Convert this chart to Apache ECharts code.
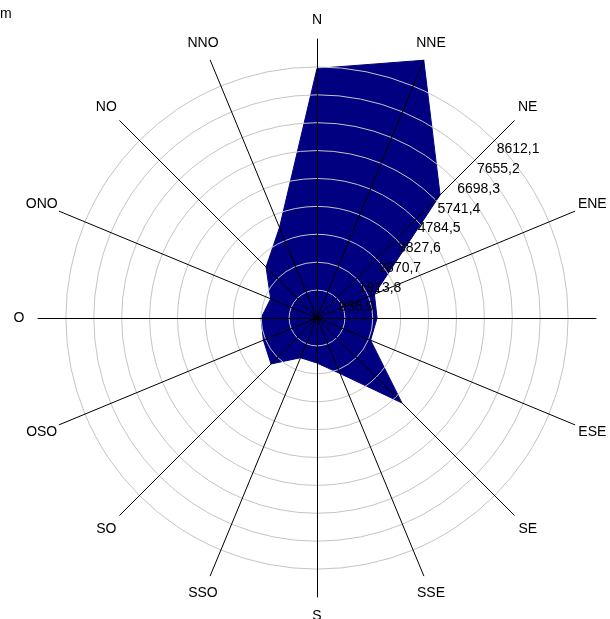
<!DOCTYPE html>
<html>
<head>
<meta charset="utf-8">
<script src="https://cdn.jsdelivr.net/npm/echarts@6/dist/echarts.min.js"></script>
<style>
html,body{margin:0;padding:0;background:#fff;}
#chart{width:610px;height:619px;}
</style>
</head>
<body>
<div id="chart"></div>
<script>
// Compass directions (clockwise from North), Spanish labels
var directions = ['N','NNE','NE','ENE','E','ESE','SE','SSE','S','SSO','SO','OSO','O','ONO','NO','NNO'];
// Values (clockwise from North)
var values = [8560, 9569, 5970, 2130, 2060, 1990, 4120, 2060, 1545, 1475, 2230, 1990, 1920, 1720, 2470, 3360];
// Ring step and axis maximum
var ringStep = 956.9;
var axisMax = 9569;
var labelAxis = 'NE';

// ECharts lays radar indicators counter-clockwise: reorder
var order = [0];
for (var i = directions.length - 1; i >= 1; i--) order.push(i);

var indicator = order.map(function (k) {
  var ind = { name: directions[k], min: 0, max: axisMax };
  if (directions[k] === labelAxis) {
    ind.axisLabel = {
      show: true,
      color: '#000',
      fontSize: 14,
      fontFamily: 'Liberation Sans, Arial, sans-serif',
      align: 'left',
      verticalAlign: 'top',
      margin: -3,
      formatter: function (v, idx) {
        if (v <= 0 || v >= axisMax - 1) return '';
        return v.toFixed(1).replace('.', ',');
      }
    };
  }
  return ind;
});
var seriesData = order.map(function (k) { return values[k]; });

var ringColors = [];
for (var j = 0; j < 10; j++) ringColors.push('#c4c4c4');
ringColors.push('rgba(0,0,0,0)');

var chart = echarts.init(document.getElementById('chart'));
chart.setOption({
  animation: false,
  backgroundColor: '#fff',
  graphic: [{ type: 'text', left: 0, top: 7, style: { text: 'm', fontSize: 14, fontFamily: 'Liberation Sans, Arial', fill: '#000' } }],
  radar: {
    z: 3,
    center: [317, 318],
    radius: 279,
    startAngle: 90,
    shape: 'circle',
    splitNumber: 10,
    indicator: indicator,
    axisName: { color: '#000', fontSize: 14, fontFamily: 'Liberation Sans, Arial, sans-serif', align: 'center', verticalAlign: 'middle' },
    nameGap: 19,
    axisLine: { show: true, lineStyle: { color: '#000', width: 1 } },
    axisTick: { show: false },
    axisLabel: { show: false },
    splitLine: { show: true, lineStyle: { color: ringColors, width: 1 } },
    splitArea: { show: false }
  },
  series: [{
    type: 'radar',
    z: 1,
    symbol: 'none',
    lineStyle: { color: '#000080', width: 1 },
    areaStyle: { color: '#000080', opacity: 1 },
    data: [{ value: seriesData }]
  }]
});
</script>
</body>
</html>
